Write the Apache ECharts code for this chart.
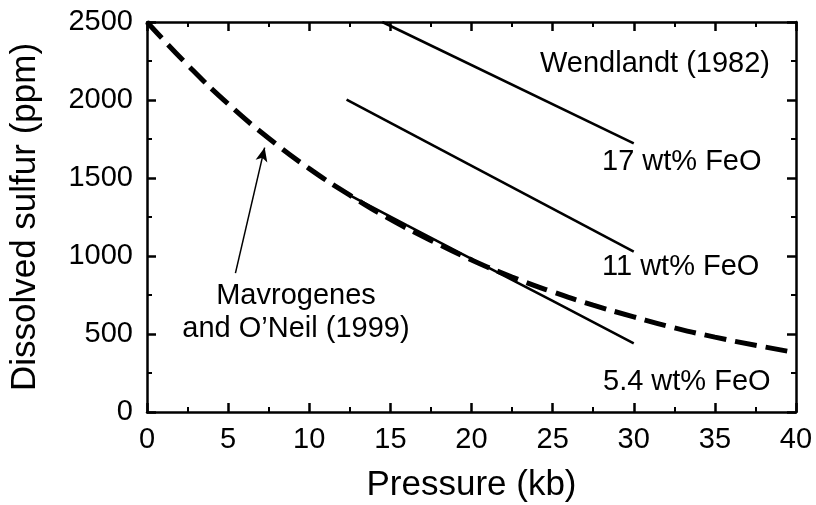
<!DOCTYPE html>
<html>
<head>
<meta charset="utf-8">
<script src="https://cdn.jsdelivr.net/npm/echarts@6/dist/echarts.min.js"></script>
<style>
  html, body { margin: 0; padding: 0; background: #fff; }
  #chart { width: 816px; height: 505px; }
</style>
</head>
<body>
<div id="chart"></div>
<script>
// Mavrogenes and O'Neil (1999) curve
const mavPressure = [0, 2.5, 5, 7.5, 10, 12.5, 15, 17.5, 20, 22.5, 25, 27.5, 30, 32.5, 35, 37.5, 40];
const mavSulfur = [2500, 2225, 1975, 1755, 1560, 1390, 1235, 1100, 975, 865, 770, 685, 610, 540, 480, 428, 380];

// Wendlandt (1982) lines
const feo17 = [[14.5, 2500], [30, 1722]];
const feo11 = [[12.3, 2002], [30, 1028]];
const feo54 = [[12.3, 1400], [16, 1198], [20, 982], [25, 712], [30, 440]];

// arrow from the label to the curve
const arrowFrom = [5.45, 890];
const arrowTo = [7.25, 1695];

const xTicks = [0, 40, 5];
const yTicks = [0, 2500, 500];

const FONT = '"Liberation Sans", Arial, Helvetica, sans-serif';

const chart = echarts.init(document.getElementById('chart'));

function axisBase(extra) {
    return Object.assign({
        type: 'value',
        axisLine: { show: true, onZero: false, lineStyle: { color: '#000', width: 2.5 } },
        axisTick: { show: true, inside: true, length: 9, lineStyle: { color: '#000', width: 2.5 } },
        minorTick: { show: true, splitNumber: 2, length: 5, lineStyle: { color: '#000', width: 2 } },
        splitLine: { show: false },
        minorSplitLine: { show: false }
    }, extra);
}

const solid = { color: '#000', width: 2.6, type: 'solid' };
const plain = v => String(v);

chart.setOption({
    animation: false,
    backgroundColor: '#fff',
    grid: { left: 147, right: 20, top: 22, bottom: 93, containLabel: false, outerBoundsMode: 'none' },
    xAxis: [
        axisBase({
            min: xTicks[0], max: xTicks[1], interval: xTicks[2],
            name: 'Pressure (kb)', nameLocation: 'middle', nameGap: 56,
            nameTextStyle: { color: '#000', fontSize: 35, fontFamily: FONT },
            axisLabel: { color: '#000', fontSize: 29, fontFamily: FONT, margin: 13, formatter: plain }
        }),
        axisBase({
            position: 'top', min: xTicks[0], max: xTicks[1], interval: xTicks[2],
            axisLabel: { show: false }
        })
    ],
    yAxis: [
        axisBase({
            min: yTicks[0], max: yTicks[1], interval: yTicks[2],
            name: 'Dissolved sulfur (ppm)', nameLocation: 'middle', nameGap: 104,
            nameTextStyle: { color: '#000', fontSize: 35, fontFamily: FONT },
            axisLabel: { color: '#000', fontSize: 29, fontFamily: FONT, margin: 14, formatter: plain }
        }),
        axisBase({
            position: 'right', min: yTicks[0], max: yTicks[1], interval: yTicks[2],
            axisLabel: { show: false }
        })
    ],
    series: [
        {
            name: 'Mavrogenes and O\'Neil (1999)',
            type: 'line',
            smooth: true,
            showSymbol: false,
            data: mavPressure.map((p, i) => [p, mavSulfur[i]]),
            lineStyle: { color: '#000', width: 5, type: [22, 9] },
            markLine: {
                silent: true,
                symbol: ['none', 'arrow'],
                symbolSize: [9, 14],
                label: { show: false },
                lineStyle: { color: '#000', width: 1.5, type: 'solid' },
                data: [[{ coord: arrowFrom }, { coord: arrowTo }]]
            }
        },
        { name: '17 wt% FeO', type: 'line', showSymbol: false, data: feo17, lineStyle: solid },
        { name: '11 wt% FeO', type: 'line', showSymbol: false, data: feo11, lineStyle: solid },
        { name: '5.4 wt% FeO', type: 'line', showSymbol: false, data: feo54, lineStyle: solid }
    ],
    graphic: [
        { type: 'text', left: 540, top: 49, style: { text: 'Wendlandt (1982)', font: '29px ' + FONT, fill: '#000' } },
        { type: 'text', left: 602, top: 147, style: { text: '17 wt% FeO', font: '29px ' + FONT, fill: '#000' } },
        { type: 'text', left: 602, top: 252, style: { text: '11 wt% FeO', font: '29px ' + FONT, fill: '#000' } },
        { type: 'text', left: 603, top: 367, style: { text: '5.4 wt% FeO', font: '29px ' + FONT, fill: '#000' } },
        {
            type: 'text', x: 296, y: 279,
            style: {
                text: 'Mavrogenes\nand O\u2019Neil (1999)', font: '29px ' + FONT, fill: '#000',
                align: 'center', lineHeight: 33
            }
        }
    ]
});
</script>
</body>
</html>
